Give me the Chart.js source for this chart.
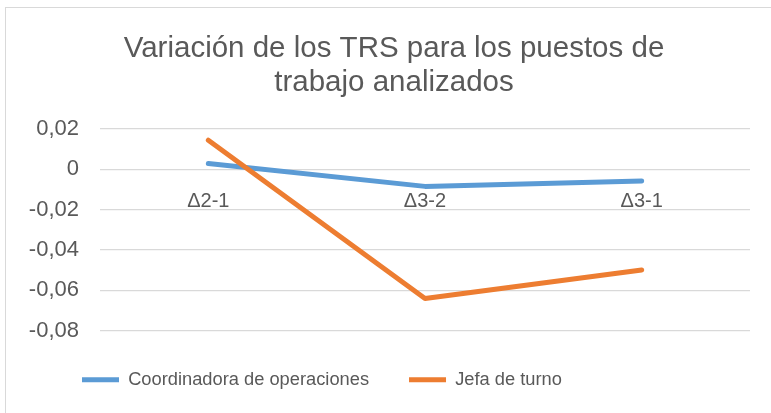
<!DOCTYPE html>
<html>
<head>
<meta charset="utf-8">
<script src="https://cdn.jsdelivr.net/npm/chart.js@4"></script>
<style>
  html, body { margin: 0; padding: 0; background: #fff; overflow: hidden; }
  #marco {
    position: absolute; left: 5px; top: 7px;
    width: 820px; height: 460px;
    border: 1px solid #d9d9d9;
  }
  #grafico { position: absolute; left: 0; top: 0; }
</style>
</head>
<body>
<div id="marco"></div>
<canvas id="grafico" width="771" height="413"></canvas>
<script>
const categorias = ["Δ2-1", "Δ3-2", "Δ3-1"];
const coordinadora = [0.0028, -0.0085, -0.0058];
const jefaTurno = [0.0144, -0.064, -0.0499];
const tituloLineas = ["Variación de los TRS para los puestos de", "trabajo analizados"];

const gris = "#595959";
const fuente = "'Liberation Sans', Arial, sans-serif";

function formatoTick(v) {
  if (Math.abs(v) < 1e-9) return "0";
  return v.toFixed(2).replace(".", ",");
}

// en el original la leyenda y el título no arrancan donde el eje Y
const moverBloques = {
  id: "moverBloques",
  afterLayout(chart) {
    chart.legend.left += 22;
    chart.legend.right += 22;
    chart.titleBlock.left += 9;
    chart.titleBlock.right += 9;
  },
};

function cargarGrafico() {
  let canvas = document.getElementById("grafico");

  let datos = {
    labels: categorias,
    datasets: [
      {
        label: "Coordinadora de operaciones",
        data: coordinadora,
        borderColor: "#5B9BD5",
        backgroundColor: "#5B9BD5",
        borderWidth: 5,
        borderCapStyle: "round",
        borderJoinStyle: "round",
        pointRadius: 0,
        tension: 0,
        order: 1,
      },
      {
        label: "Jefa de turno",
        data: jefaTurno,
        borderColor: "#ED7D31",
        backgroundColor: "#ED7D31",
        borderWidth: 5,
        borderCapStyle: "round",
        borderJoinStyle: "round",
        pointRadius: 0,
        tension: 0,
        order: 0,
      },
    ],
  };

  let config = {
    type: "line",
    data: datos,
    plugins: [moverBloques],
    options: {
      responsive: false,
      animation: false,
      devicePixelRatio: 1,
      layout: {
        padding: { left: 20, right: 21, top: 0, bottom: 14 },
      },
      plugins: {
        tooltip: { enabled: false },
        title: {
          display: true,
          text: tituloLineas,
          color: gris,
          font: { family: fuente, size: 29.5, weight: "normal", lineHeight: 1.15 },
          padding: { top: 32, bottom: 29 },
        },
        legend: {
          position: "bottom",
          align: "start",
          labels: {
            usePointStyle: true,
            pointStyle: "line",
            pointStyleWidth: 37,
            padding: 40,
            color: gris,
            font: { family: fuente, size: 18.3 },
            sort: (a, b) => a.datasetIndex - b.datasetIndex,
          },
        },
      },
      scales: {
        x: {
          position: { y: 0 },
          offset: true,
          grid: { display: false, drawTicks: false },
          border: { display: false },
          ticks: {
            color: gris,
            padding: 20,
            font: { family: fuente, size: 20 },
          },
        },
        y: {
          min: -0.08,
          max: 0.02,
          afterFit: (escala) => { escala.width = 80; },
          grid: { color: "#d9d9d9", lineWidth: 1.3, drawTicks: false },
          border: { display: false },
          ticks: {
            stepSize: 0.02,
            color: gris,
            padding: 21,
            font: { family: fuente, size: 22 },
            callback: formatoTick,
          },
        },
      },
    },
  };

  new Chart(canvas, config);
}

document.addEventListener("DOMContentLoaded", () => {
  cargarGrafico();
});
</script>
</body>
</html>
